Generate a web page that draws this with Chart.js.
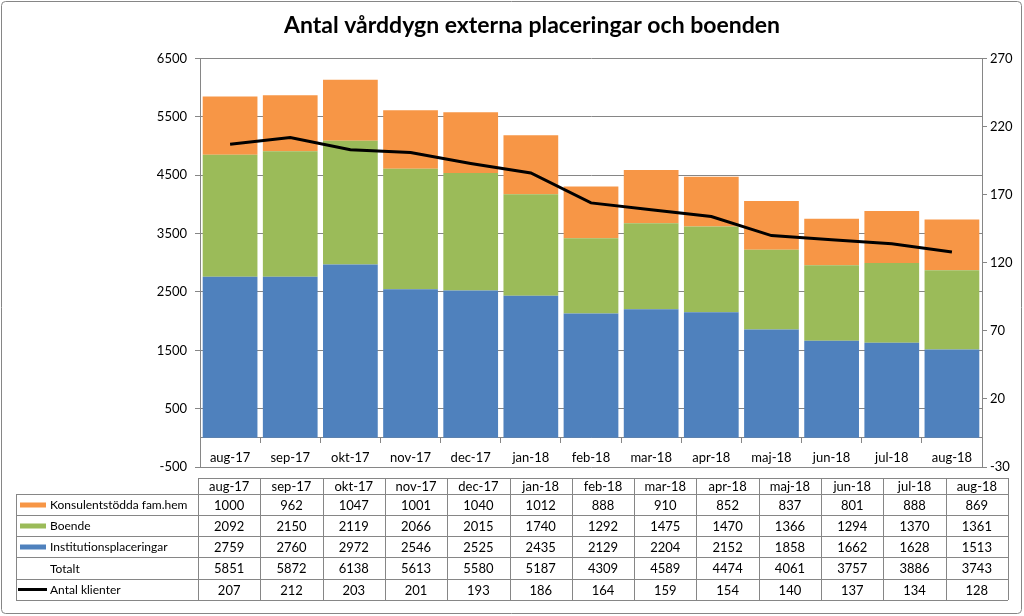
<!DOCTYPE html>
<html><head><meta charset="utf-8">
<script src="https://cdn.jsdelivr.net/npm/chart.js@4/dist/chart.umd.min.js"></script>
<style>html,body{margin:0;padding:0;background:#fff;} #wrap{width:1024px;height:616px;position:relative}</style>
</head><body><div id="wrap"><canvas id="c" width="1024" height="616"></canvas></div>
<script>
const categories = ['aug-17','sep-17','okt-17','nov-17','dec-17','jan-18','feb-18','mar-18','apr-18','maj-18','jun-18','jul-18','aug-18'];
const konsulent = [1000,962,1047,1001,1040,1012,888,910,852,837,801,888,869];
const boende = [2092,2150,2119,2066,2015,1740,1292,1475,1470,1366,1294,1370,1361];
const institution = [2759,2760,2972,2546,2525,2435,2129,2204,2152,1858,1662,1628,1513];
const totalt = [5851,5872,6138,5613,5580,5187,4309,4589,4474,4061,3757,3886,3743];
const klienter = [207,212,203,201,193,186,164,159,154,140,137,134,128];
const leftTicks = [-500,500,1500,2500,3500,4500,5500,6500];
const rightTicks = [-30,20,70,120,170,220,270];
const titleText = 'Antal vårddygn externa placeringar och boenden';

const C_ORANGE = '#F79646', C_GREEN = '#9BBB59', C_BLUE = '#4F81BD', C_GRID = '#868686';
const FONT = 'Lato, "Open Sans", sans-serif';
Chart.defaults.font.family = FONT;
Chart.defaults.font.size = 13;
Chart.defaults.color = '#000';

const tableRows = [
  {label:'Konsulentstödda fam.hem', values:konsulent, swatch:'rect', color:C_ORANGE},
  {label:'Boende', values:boende, swatch:'rect', color:C_GREEN},
  {label:'Institutionsplaceringar', values:institution, swatch:'rect', color:C_BLUE},
  {label:'Totalt', values:totalt, swatch:null},
  {label:'Antal klienter', values:klienter, swatch:'line', color:'#000'}
];

const tablePlugin = {
  id:'dataTable',
  afterDraw(chart){
    const ctx = chart.ctx;
    const x0 = 198, x1 = 1008, lx = 16;
    const n = categories.length, cw = (x1 - x0)/n;
    const lines = [478, 494, 515, 536, 557, 579, 600];
    ctx.save();
    ctx.strokeStyle = C_GRID; ctx.lineWidth = 1;
    ctx.beginPath();
    ctx.moveTo(x0, lines[0]+0.5); ctx.lineTo(x1, lines[0]+0.5);
    for (let r=1;r<lines.length;r++){ ctx.moveTo(lx, lines[r]+0.5); ctx.lineTo(x1, lines[r]+0.5); }
    for (let i=0;i<=n;i++){ const x=Math.round(x0+i*cw)+0.5; ctx.moveTo(x, lines[0]); ctx.lineTo(x, lines[lines.length-1]); }
    ctx.moveTo(lx+0.5, lines[1]); ctx.lineTo(lx+0.5, lines[lines.length-1]);
    ctx.stroke();
    ctx.fillStyle = '#000';
    ctx.textBaseline = 'middle';
    ctx.textAlign = 'center';
    ctx.font = '13px ' + FONT;
    const hy = (lines[0]+lines[1])/2 + 1;
    categories.forEach((c,i)=>ctx.fillText(c, x0+(i+0.5)*cw, hy));
    tableRows.forEach((row, r)=>{
      const cy = (lines[r+1]+lines[r+2])/2 + 1;
      ctx.textAlign = 'center';
      ctx.fillStyle = '#000';
      ctx.font = '13px ' + FONT;
      row.values.forEach((v,i)=>ctx.fillText(String(v), x0+(i+0.5)*cw, cy));
      ctx.textAlign = 'left';
      ctx.font = '12px ' + FONT;
      ctx.fillText(row.label, 50, cy);
      if (row.swatch === 'rect'){ ctx.fillStyle = row.color; ctx.fillRect(20, cy-3, 26, 5); }
      else if (row.swatch === 'line'){ ctx.strokeStyle = row.color; ctx.lineWidth = 3; ctx.beginPath(); ctx.moveTo(18, cy-1); ctx.lineTo(47, cy-1); ctx.stroke(); }
    });
    ctx.strokeStyle = C_GRID; ctx.lineWidth = 1;
    ctx.beginPath();
    if (ctx.roundRect) ctx.roundRect(1.5,1.5,1020,612,4); else ctx.rect(1.5,1.5,1020,612);
    ctx.stroke();
    ctx.restore();
  }
};

new Chart(document.getElementById('c'), {
  data: {
    labels: categories,
    datasets: [
      {type:'line', label:'Antal klienter', data:klienter, yAxisID:'y1', borderColor:'#000', backgroundColor:'#000', borderWidth:3, pointRadius:0, tension:0, order:0},
      {type:'bar', label:'Institutionsplaceringar', data:institution, backgroundColor:C_BLUE, yAxisID:'y', stack:'s', order:1, barPercentage:0.91, categoryPercentage:1},
      {type:'bar', label:'Boende', data:boende, backgroundColor:C_GREEN, yAxisID:'y', stack:'s', order:1, barPercentage:0.91, categoryPercentage:1},
      {type:'bar', label:'Konsulentstödda fam.hem', data:konsulent, backgroundColor:C_ORANGE, yAxisID:'y', stack:'s', order:1, barPercentage:0.91, categoryPercentage:1}
    ]
  },
  options: {
    responsive:false, animation:false,
    layout:{padding:{left:40,right:0,top:0,bottom:149}},
    plugins:{
      legend:{display:false}, tooltip:{enabled:false},
      title:{display:true, text:titleText, color:'#000', font:{size:23, weight:'bold', family:FONT}, padding:{top:12,bottom:19}}
    },
    scales:{
      x:{
        stacked:true, position:{y:0},
        grid:{display:true, drawOnChartArea:false, drawTicks:true, tickLength:5, color:C_GRID, offset:true},
        border:{display:true, color:C_GRID},
        ticks:{padding:7, color:'#000', font:{size:13}, maxRotation:0, autoSkip:false}
      },
      y:{
        stacked:true, position:'left', min:-500, max:6500,
        afterBuildTicks:s=>{s.ticks = leftTicks.map(v=>({value:v}));},
        afterFit:s=>{s.width = 160;},
        grid:{color:C_GRID, tickLength:5},
        border:{display:true, color:C_GRID},
        ticks:{padding:8, color:'#000', font:{size:13}, callback:v=>String(v)}
      },
      y1:{
        position:'right', min:-30, max:270,
        afterBuildTicks:s=>{s.ticks = rightTicks.map(v=>({value:v}));},
        afterFit:s=>{s.width = 42;},
        grid:{drawOnChartArea:false, color:C_GRID, tickLength:5},
        border:{display:true, color:C_GRID},
        ticks:{padding:3, color:'#000', font:{size:13}, callback:v=>String(v)}
      }
    }
  },
  plugins:[tablePlugin]
});
</script>
</body></html>
